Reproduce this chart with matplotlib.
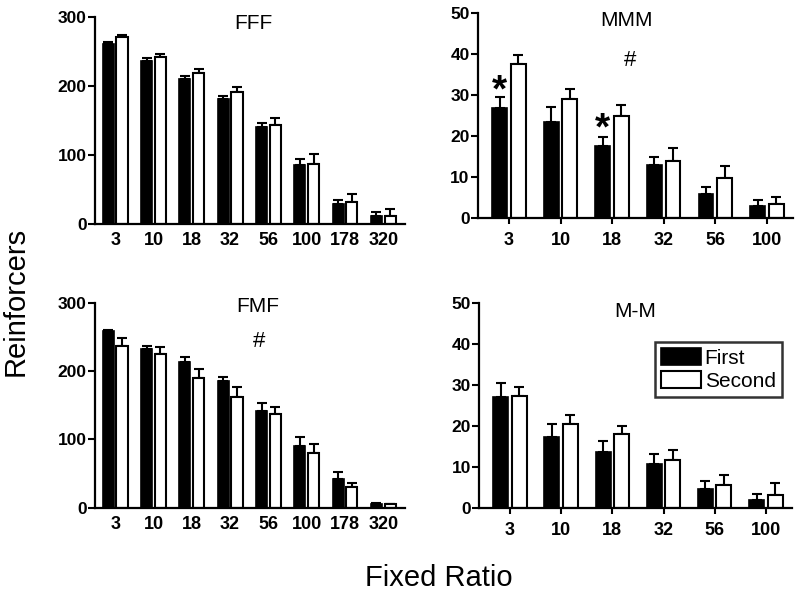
import numpy as np
import matplotlib
matplotlib.use("Agg")
import matplotlib.pyplot as plt

plt.rcParams['font.family'] = ['Liberation Sans', 'DejaVu Sans']

# fixed ratio labels
fr_long = ['3', '10', '18', '32', '56', '100', '178', '320']
fr_short = ['3', '10', '18', '32', '56', '100']

# FFF
fff_first = [261, 237, 211, 181, 140, 85, 29, 11]
fff_first_err = [3, 4, 3, 4, 6, 9, 6, 6]
fff_second = [272, 243, 219, 191, 143, 87, 32, 12]
fff_second_err = [2, 3, 6, 8, 11, 14, 12, 9]

# MMM
mmm_first = [26.8, 23.6, 17.7, 12.9, 5.9, 3.1]
mmm_first_err = [2.7, 3.5, 2.1, 2.1, 1.8, 1.3]
mmm_second = [37.6, 29.1, 24.9, 13.9, 9.8, 3.4]
mmm_second_err = [2.2, 2.4, 2.7, 3.3, 3.0, 1.7]

# FMF
fmf_first = [258, 232, 214, 185, 142, 90, 42, 6]
fmf_first_err = [2, 5, 6, 7, 11, 13, 10, 1]
fmf_second = [236, 225, 190, 162, 137, 80, 30, 5]
fmf_second_err = [12, 10, 13, 15, 11, 13, 6, 1]

# M-M
mm_first = [27.1, 17.2, 13.7, 10.8, 4.5, 2.0]
mm_first_err = [3.5, 3.2, 2.6, 2.4, 2.0, 1.4]
mm_second = [27.3, 20.4, 18.0, 11.7, 5.6, 3.1]
mm_second_err = [2.3, 2.2, 2.1, 2.5, 2.4, 2.9]


def panel(ax, labels, first, ferr, second, serr, ymax, step, title, tpos, xticklen):
    x = np.arange(len(labels))
    off = 0.18
    w = 0.29
    ax.errorbar(x - off, first, yerr=[np.zeros(len(x)), ferr], fmt='none',
                ecolor='black', elinewidth=1.5, capsize=3.5, capthick=1.5, zorder=1)
    ax.errorbar(x + off, second, yerr=[np.zeros(len(x)), serr], fmt='none',
                ecolor='black', elinewidth=1.5, capsize=3.5, capthick=1.5, zorder=1)
    ax.bar(x - off, first, w, color='black', edgecolor='black', linewidth=1.2,
           label='First', zorder=2)
    ax.bar(x + off, second, w, color='white', edgecolor='black', linewidth=1.5,
           label='Second', zorder=2)
    ax.set_xlim(-0.55, len(labels) - 1 + 0.55)
    ax.set_ylim(0, ymax)
    ax.set_yticks(np.arange(0, ymax + 1, step))
    ax.set_xticks(x)
    ax.set_xticklabels(labels, fontsize=13, fontweight='bold')
    for t in ax.get_yticklabels():
        t.set_fontsize(12.5)
        t.set_fontweight('bold')
    for s in ['top', 'right']:
        ax.spines[s].set_visible(False)
    for s in ['left', 'bottom']:
        ax.spines[s].set_linewidth(1.6)
    ax.tick_params(axis='y', length=5, width=1.5, pad=1)
    ax.tick_params(axis='x', length=xticklen, width=1.5, pad=6)
    ax.text(tpos[0], tpos[1], title, transform=ax.transAxes, ha='center',
            va='center', fontsize=15)


fig = plt.figure(figsize=(8, 5.94), dpi=100)

ax1 = fig.add_axes([0.119, 0.623, 0.3875, 0.348])
panel(ax1, fr_long, fff_first, fff_first_err, fff_second, fff_second_err,
      300, 100, 'FFF', (0.51, 0.968), 0)
ax1.set_xlim(-0.52, 7.57)

ax2 = fig.add_axes([0.5975, 0.6325, 0.394, 0.345])
panel(ax2, fr_short, mmm_first, mmm_first_err, mmm_second, mmm_second_err,
      50, 10, 'MMM', (0.47, 0.964), 4)
ax2.set_xlim(-0.6, 5.51)
ax2.text(0.483, 0.772, '#', transform=ax2.transAxes, ha='center', va='center',
         fontsize=16)
ax2.text(0 - 0.18, 31.0, '*', ha='center', va='center', fontsize=28, fontweight='bold')
ax2.text(2 - 0.18, 21.6, '*', ha='center', va='center', fontsize=28, fontweight='bold')

ax3 = fig.add_axes([0.119, 0.1453, 0.3875, 0.345])
panel(ax3, fr_long, fmf_first, fmf_first_err, fmf_second, fmf_second_err,
      300, 100, 'FMF', (0.525, 0.984), 0)
ax3.set_xlim(-0.52, 7.57)
ax3.text(0.53, 0.813, '#', transform=ax3.transAxes, ha='center', va='center',
         fontsize=16)

ax4 = fig.add_axes([0.599, 0.1453, 0.391, 0.344])
panel(ax4, fr_short, mm_first, mm_first_err, mm_second, mm_second_err,
      50, 10, 'M-M', (0.50, 0.959), 4)
ax4.set_xlim(-0.6, 5.51)
leg = ax4.legend(loc='upper left', bbox_to_anchor=(0.561, 0.812), fontsize=15,
                 frameon=True, fancybox=False, handlelength=1.9, handleheight=0.9,
                 handletextpad=0.2, borderpad=0.3, labelspacing=0.15,
                 borderaxespad=0)
leg.get_frame().set_edgecolor('black')
leg.get_frame().set_linewidth(1.8)

fig.text(0.549, 0.027, 'Fixed Ratio', ha='center', va='center', fontsize=21)
fig.text(0.02, 0.493, 'Reinforcers', ha='center', va='center', rotation=90,
         fontsize=21)

fig.savefig('out.png', dpi=100)
